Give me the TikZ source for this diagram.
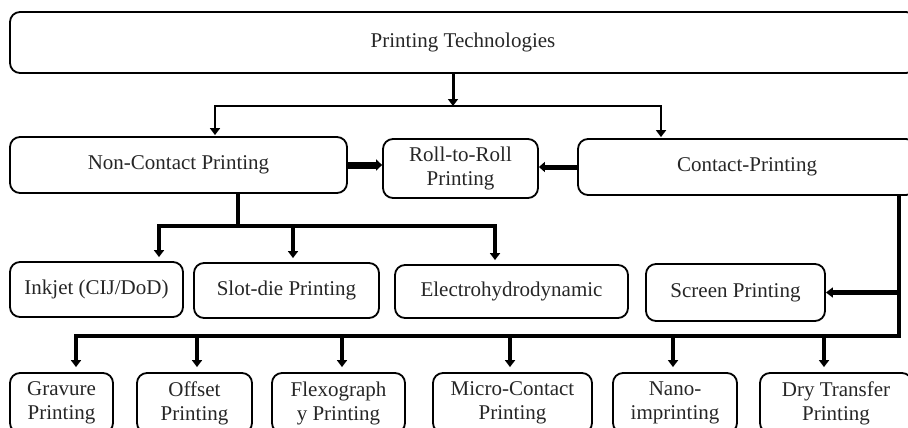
\documentclass[tikz,border=0pt]{standalone}
\usepackage{fontspec}
\setmainfont{Liberation Serif}
\usetikzlibrary{arrows.meta}
\tikzset{
  box/.style={draw, line width=1.8pt, rounded corners=10pt, inner sep=0pt,
    align=center, font=\fontsize{21}{24}\selectfont, text=black!85},
  conn/.style={line width=#1, line join=miter, line cap=butt},
  conn/.default=4pt,
  tip/.style={-{Triangle[width=10pt,length=7pt]}},
  tips/.style={{Triangle[width=10pt,length=7pt]}-{Triangle[width=10pt,length=7pt]}},
}
\begin{document}
\begin{tikzpicture}[x=1pt,y=-1pt]
\useasboundingbox (0,0) rectangle (908,428);
\clip (0,0) rectangle (908,428);
% level 0
\node[box, minimum width=906pt, minimum height=61pt] (top) at (463,42.5) {Printing Technologies};
% level 1
\node[box, minimum width=337pt, minimum height=56pt] (nc) at (178.5,165) {Non-Contact Printing};
\node[box, minimum width=155pt, minimum height=59pt] (rr) at (460.5,168.5) {Roll-to-Roll\\Printing};
\node[box, minimum width=338pt, minimum height=56pt] (cp) at (747,167) {Contact-Printing};
% level 2
\node[box, minimum width=173pt, minimum height=55pt] (ink) at (96.5,289.5) {Inkjet (CIJ/DoD)};
\node[box, minimum width=185pt, minimum height=55pt] (slit) at (286.5,290.5) {Slot-die Printing};
\node[box, minimum width=233pt, minimum height=53pt] (ehd) at (511.5,291.5) {Electrohydrodynamic};
\node[box, minimum width=179pt, minimum height=57pt] (scr) at (735.5,292.5) {Screen Printing};
% level 3
\node[box, minimum width=103pt, minimum height=60pt] (grav) at (61.5,403) {Gravure\\Printing};
\node[box, minimum width=115pt, minimum height=60pt] (off) at (194.5,403) {Offset\\Printing};
\node[box, minimum width=133pt, minimum height=60pt] (flex) at (338.5,403) {Flexograph\\y Printing};
\node[box, minimum width=159pt, minimum height=60pt] (mic) at (512.5,403) {Micro-Contact\\Printing};
\node[box, minimum width=124pt, minimum height=60pt] (nano) at (675,403) {Nano-\\imprinting};
\node[box, minimum width=152pt, minimum height=60pt] (dry) at (836,403) {Dry Transfer\\Printing};

% connectors level 0 -> 1
\coordinate (j1) at (453,106);
\coordinate (h1l) at (215,106);
\coordinate (h1r) at (661,106);
\draw[conn=3pt, tip] (j1 |- top.south) -- (j1);
\draw[conn=2.6pt, tips, shorten <=1pt, shorten >=1pt] (h1l |- nc.north) -- (h1l) -- (h1r) -- (h1r |- cp.north);

% to roll-to-roll
\draw[conn=7pt, -{Triangle[width=11pt,length=6pt]}] (nc.east) -- (nc.east -| rr.west);
\draw[conn=5pt, -{Triangle[width=10pt,length=6pt]}] (cp.west) -- (cp.west -| rr.east);

% non-contact branches
\coordinate (h2) at (238,226);
\coordinate (h2a) at (159,226);
\coordinate (h2b) at (293,226);
\coordinate (h2c) at (495,226);
\draw[conn=4pt] (h2 |- nc.south) -- (h2);
\draw[conn=4pt, tips, shorten <=4pt, shorten >=4pt] (h2a |- ink.north) -- (h2a) -- (h2c) -- (h2c |- ehd.north);
\draw[conn=4.5pt, tip, shorten >=4pt] (h2b) -- (h2b |- slit.north);

% contact branches
\coordinate (v) at (899,336);
\coordinate (b1) at (76,336);
\coordinate (b2) at (197,336);
\coordinate (b3) at (342,336);
\coordinate (b4) at (510,336);
\coordinate (b5) at (673,336);
\coordinate (b6) at (824,336);
\draw[conn=4.5pt, tip, shorten >=5pt] (v |- cp.south) -- (v) -- (b1) -- (b1 |- grav.north);
\draw[conn=4.5pt, tip] (v |- scr.east) -- (scr.east);
\foreach \b/\n in {b2/off, b3/flex, b4/mic, b5/nano, b6/dry}
  \draw[conn=4.5pt, tip, shorten >=5pt] (\b) -- (\b |- \n.north);
\end{tikzpicture}
\end{document}
